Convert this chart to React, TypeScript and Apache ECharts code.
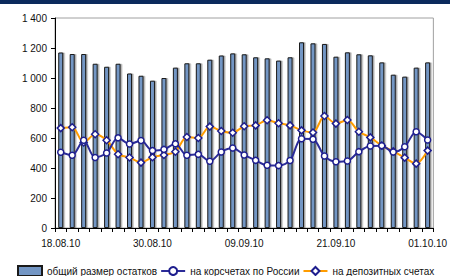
import React, { useEffect, useRef } from "react";
import * as echarts from "echarts";

const categories = [
  "18.08.10", "19.08.10", "20.08.10", "23.08.10", "24.08.10", "25.08.10", "26.08.10", "27.08.10",
  "30.08.10", "31.08.10", "01.09.10", "02.09.10", "03.09.10", "06.09.10", "07.09.10", "08.09.10",
  "09.09.10", "10.09.10", "13.09.10", "14.09.10", "15.09.10", "16.09.10", "17.09.10", "20.09.10",
  "21.09.10", "22.09.10", "23.09.10", "24.09.10", "27.09.10", "28.09.10", "29.09.10", "30.09.10",
  "01.10.10",
];

const totalBalances = [
  1170, 1160, 1160, 1095, 1075, 1095, 1030, 1015, 982, 1000, 1069, 1098, 1098, 1122, 1150, 1164,
  1158, 1138, 1131, 1116, 1138, 1238, 1231, 1227, 1142, 1171, 1158, 1151, 1104, 1022, 1009, 1069,
  1104,
];

const corrAccounts = [
  505, 485, 585, 470, 500, 601, 560, 583, 516, 524, 561, 485, 491, 445, 507, 533,
  487, 451, 418, 416, 450, 595, 592, 480, 442, 447, 509, 547, 549, 507, 542, 642,
  587,
];

const depositAccounts = [
  666, 672, 570, 625, 585, 492, 470, 436, 472, 487, 508, 607, 600, 676, 647, 635,
  678, 684, 718, 698, 684, 651, 637, 747, 696, 720, 642, 604, 549, 512, 469, 429,
  516,
];

const seriesNames = ["общий размер остатков", "на корсчетах по России", "на депозитных счетах"];

const FONT = "'Liberation Sans', Arial, sans-serif";

export default function App() {
  const ref = useRef<HTMLDivElement>(null);

  useEffect(() => {
    if (!ref.current) return;
    const chart = echarts.init(ref.current, null, { renderer: "svg" });
    const markerStyle = { color: "#ffffff", borderColor: "#1e1e8e", borderWidth: 1.5 };
    chart.setOption({
      animation: false,
      backgroundColor: "#ffffff",
      textStyle: { fontFamily: FONT },
      graphic: [
        { type: "rect", left: 0, top: 0, shape: { width: 450, height: 4 }, style: { fill: "#0b2a5c" } },
      ],
      grid: {
        left: 55,
        right: 10,
        top: 18,
        bottom: 48,
        show: true,
        borderColor: "#a0a0a0",
        borderWidth: 1,
      },
      legend: {
        left: 12,
        top: 260,
        itemGap: 3,
        itemWidth: 24,
        itemHeight: 10,
        textStyle: { fontFamily: FONT, fontSize: 10, color: "#111", lineHeight: 12 },
        data: [
          { name: seriesNames[0], icon: "rect" },
          { name: seriesNames[1] },
          { name: seriesNames[2] },
        ],
      },
      xAxis: {
        type: "category",
        data: categories,
        boundaryGap: true,
        axisLine: { lineStyle: { color: "#000", width: 1 } },
        axisTick: { show: true, interval: 0, length: 4, lineStyle: { color: "#000" } },
        axisLabel: { interval: 7, fontSize: 10, color: "#111", fontFamily: FONT, margin: 10 },
        splitLine: { show: false },
      },
      yAxis: {
        type: "value",
        min: 0,
        max: 1400,
        interval: 200,
        axisLine: { show: true, lineStyle: { color: "#000", width: 1 } },
        axisTick: { show: true, length: 4, lineStyle: { color: "#000" } },
        axisLabel: {
          fontSize: 10,
          color: "#111",
          fontFamily: FONT,
          margin: 8,
          formatter: (v: number) => String(v).replace(/\B(?=(\d{3})+(?!\d))/g, " "),
        },
        splitLine: { show: false },
      },
      series: [
        {
          name: seriesNames[0],
          type: "bar",
          data: totalBalances,
          barWidth: 5,
          itemStyle: {
            color: "#7396c4",
            borderColor: "#1a1a1a",
            borderWidth: 1,
            shadowColor: "rgba(0,0,0,0.35)",
            shadowOffsetX: 1.5,
            shadowOffsetY: 0,
          },
          z: 1,
        },
        {
          name: seriesNames[1],
          type: "line",
          data: corrAccounts,
          smooth: 0.3,
          symbol: "circle",
          symbolSize: 6,
          showAllSymbol: true,
          lineStyle: { color: "#2b2b98", width: 2 },
          itemStyle: markerStyle,
          z: 3,
        },
        {
          name: seriesNames[2],
          type: "line",
          data: depositAccounts,
          smooth: 0.3,
          symbol: "diamond",
          symbolSize: 7,
          showAllSymbol: true,
          lineStyle: { color: "#ff9c00", width: 2 },
          itemStyle: markerStyle,
          z: 2,
        },
      ],
    });
    return () => chart.dispose();
  }, []);

  return (
    <div
      ref={ref}
      style={{ position: "fixed", left: 0, top: 0, width: 450, height: 276 }}
    />
  );
}
